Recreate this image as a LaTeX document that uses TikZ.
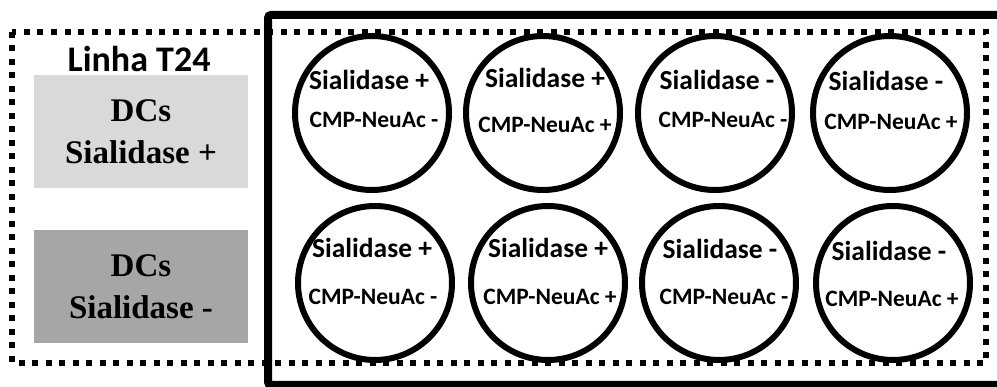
\documentclass[tikz,border=0pt]{standalone}
\usepackage{fontspec}
\setmainfont{Liberation Serif}
\newfontfamily\calib{Carlito}
\definecolor{lightbox}{HTML}{D9D9D9}
\definecolor{darkbox}{HTML}{A6A6A6}
\begin{document}
\begin{tikzpicture}[x=1pt,y=-1pt,
  dotframe/.style={line width=6pt,dash pattern=on 6pt off 7.5pt},
  plate/.style={line width=8pt,rounded corners=3pt},
  well/.style={circle,draw,line width=6pt,minimum size=154pt,inner sep=0pt},
  enz/.style={anchor=base,inner sep=0pt,font=\calib\bfseries\fontsize{27.5}{30}\selectfont},
  sub/.style={anchor=base,inner sep=0pt,font=\calib\bfseries\fontsize{23.5}{26}\selectfont},
  dcbox/.style={minimum width=214pt,minimum height=113pt,inner sep=0pt,align=center,
    font=\bfseries\fontsize{33}{42}\selectfont},
  title/.style={anchor=base,inner sep=0pt,font=\calib\bfseries\fontsize{36}{38}\selectfont}]
\useasboundingbox (0,0) rectangle (997,387);
% frames
\draw[dotframe] (12,32) rectangle (986,363);
\draw[plate] (268,15) rectangle (1005,385);
% left panel
\node[title] (t24) at (139,72) {Linha T24};
\node[dcbox,fill=lightbox] (dcp) at (141,132) {DCs\\Sialidase +};
\node[dcbox,fill=darkbox] (dcm) at (141,286.5) {DCs\\Sialidase -};
% wells row 1
\node[well] (w11) at (372,113) {};
\node[well] (w12) at (543,113) {};
\node[well] (w13) at (715,113) {};
\node[well] (w14) at (890,113) {};
% wells row 2
\node[well] (w21) at (375,283) {};
\node[well] (w22) at (548,283) {};
\node[well] (w23) at (719,283) {};
\node[well] (w24) at (893,283) {};
% labels row 1
\node[enz] (e11) at (369,90) {Sialidase +};
\node[sub] (s11) at (374,128) {CMP-NeuAc -};
\node[enz] (e12) at (545,88) {Sialidase +};
\node[sub] (s12) at (545,133) {CMP-NeuAc +};
\node[enz] (e13) at (717,90) {Sialidase -};
\node[sub] (s13) at (723,128) {CMP-NeuAc -};
\node[enz] (e14) at (886,91) {Sialidase -};
\node[sub] (s14) at (891,130) {CMP-NeuAc +};
% labels row 2
\node[enz] (e21) at (372,258) {Sialidase +};
\node[sub] (s21) at (373,305) {CMP-NeuAc -};
\node[enz] (e22) at (548,258) {Sialidase +};
\node[sub] (s22) at (550,305) {CMP-NeuAc +};
\node[enz] (e23) at (720,259) {Sialidase -};
\node[sub] (s23) at (724,305) {CMP-NeuAc -};
\node[enz] (e24) at (889,261) {Sialidase -};
\node[sub] (s24) at (892,307) {CMP-NeuAc +};
\end{tikzpicture}
\end{document}
